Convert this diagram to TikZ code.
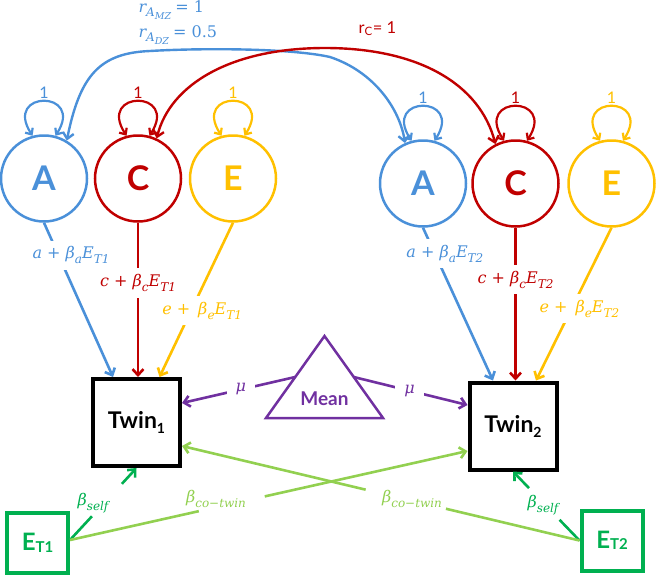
\documentclass[tikz,border=0pt]{standalone}
\usepackage{fontspec}
\setmainfont{Lato}
\newfontfamily\mfont{DejaVu Serif}
\newcommand\mlab[1]{{\mfont\itshape #1}}
\newcommand\sbs[1]{\raisebox{-0.3em}{\fontsize{12}{12}\selectfont #1}}
\newcommand\ssbs[1]{\raisebox{-0.25em}{\fontsize{9.5}{9.5}\selectfont #1}}
\newcommand\mminus{\char"2212}
\usetikzlibrary{arrows.meta,calc}
\definecolor{cblue}{RGB}{74,144,217}
\definecolor{cred}{RGB}{192,0,0}
\definecolor{cyel}{RGB}{255,192,0}
\definecolor{cpur}{RGB}{112,48,160}
\definecolor{cdgreen}{RGB}{0,176,80}
\definecolor{clgreen}{RGB}{146,208,80}
\tikzset{
  barb/.tip={Straight Barb[length=6pt,width=11pt]},
  sbarb/.tip={Straight Barb[length=5pt,width=9pt]},
}
\begin{document}
\begin{tikzpicture}[x=1pt,y=-1pt,
  lat/.style={circle, draw, line width=2.5pt, minimum size=86pt, inner sep=0pt, font=\fontsize{34}{34}\selectfont\bfseries},
  obs/.style={rectangle, draw=black, line width=4pt, minimum width=87pt, minimum height=87pt, inner sep=0pt, font=\fontsize{23}{23}\selectfont\bfseries},
  envbox/.style={rectangle, draw=cdgreen, text=cdgreen, line width=4pt, minimum width=61pt, minimum height=60pt, inner sep=0pt, font=\fontsize{24}{24}\selectfont\bfseries},
  conn/.style={line width=2.6pt, -barb},
  segline/.style={line width=2.6pt},
  dbl/.style={line width=2.4pt, barb-barb},
  loopl/.style={line width=2.2pt, sbarb-sbarb},
  onelbl/.style={font=\fontsize{16}{16}\selectfont, inner sep=0pt},
  pathlbl/.style={fill=white, inner xsep=1pt, inner ysep=6pt, font=\fontsize{16}{16}\selectfont},
  mulbl/.style={fill=white, inner xsep=9pt, inner ysep=3pt, font=\fontsize{16}{16}\selectfont},
  glbl/.style={inner sep=0pt, font=\fontsize{16}{16}\selectfont},
]
\useasboundingbox (0,0) rectangle (656,574);

% latent circles
\node[lat, cblue] (A1) at (44,178.5) {A};
\node[lat, cred] (C1) at (138,178.5) {C};
\node[lat, cyel] (E1) at (233,178.5) {E};
\node[lat, cblue] (A2) at (423,183.5) {A};
\node[lat, cred] (C2) at (515.5,183.5) {C};
\node[lat, cyel] (E2) at (611.5,183.5) {E};

% observed boxes
\node[obs] (T1) at (136.5,422.5) {Twin\raisebox{-5pt}{\fontsize{14}{14}\selectfont 1}};
\node[obs] (T2) at (513,426) {Twin\raisebox{-5pt}{\fontsize{14}{14}\selectfont 2}};

% environment boxes
\node[envbox] (ET1) at (37.5,543) {E\raisebox{-1.5pt}{\fontsize{15}{15}\selectfont T1}};
\node[envbox] (ET2) at (612,540.5) {E\raisebox{-1.5pt}{\fontsize{15}{15}\selectfont T2}};

% mean triangle
\coordinate (tA) at (324.5,336);
\coordinate (tL) at (266,418);
\coordinate (tR) at (383,418);
\draw[cpur, line width=2.5pt, line join=miter] (tA) -- (tR) -- (tL) -- cycle;
\node[cpur, font=\fontsize{19}{19}\selectfont\bfseries] (mean) at (324.5,399) {Mean};

% variance loops
\foreach \n/\c in {A1/cblue,C1/cred,E1/cyel,A2/cblue,C2/cred,E2/cyel}{
  \draw[loopl, \c] (\n.105) .. controls +(-30,-46) and +(30,-46) .. (\n.75)
    node[onelbl, pos=0.5, above=1.5pt] (one\n) {1};
}

% covariance arcs
\draw[dbl, cblue] (A1.59) .. controls (80,75) and (100,53) .. (150,51)
  .. controls (200,48) and (290,48) .. (330,57)
  .. controls (375,72) and (400,110) .. (A2.114);
\draw[dbl, cred] (C1.65) .. controls (170,85) and (230,48) .. (325,48)
  .. controls (420,48) and (480,85) .. (C2.117);

\node[cblue, font=\fontsize{16}{16}\selectfont, anchor=base west] (rAMZ) at (135,12)
  {\mlab{r\sbs{A\ssbs{MZ}}} {\mfont = 1}};
\node[cblue, font=\fontsize{16}{16}\selectfont, anchor=base west] (rADZ) at (135,37)
  {\mlab{r\sbs{A\ssbs{DZ}}} {\mfont = 0.5}};
\node[cred, font=\fontsize{16.5}{16.5}\selectfont, anchor=base west] (rC) at (355,33) {r\textsubscript{C}= 1};

% paths to twin 1
\draw[conn, cblue] (A1.south) -- ([xshift=-23.5pt]T1.north)
  node[pathlbl, pos=0.21, xshift=12.5pt] (la1) {\mlab{a + β\sbs{a}E\sbs{T1}}};
\draw[conn, cred] (C1.south) -- (C1.south |- T1.north)
  node[pathlbl, pos=0.39] (lc1) {\mlab{c + β\sbs{c}E\sbs{T1}}};
\draw[conn, cyel] (E1.south) -- ([xshift=23pt]T1.north)
  node[pathlbl, pos=0.57, xshift=11pt] (le1) {\mlab{e +\enspace β\sbs{e}E\sbs{T1}}};

% paths to twin 2
\draw[conn, cblue] (A2.south) -- ([xshift=-20pt]T2.north)
  node[pathlbl, pos=0.17, xshift=10pt] (la2) {\mlab{a + β\sbs{a}E\sbs{T2}}};
\draw[conn, cred] (C2.south) -- (C2.south |- T2.north)
  node[pathlbl, pos=0.34] (lc2) {\mlab{c + β\sbs{c}E\sbs{T2}}};
\draw[conn, cyel] (E2.south) -- ([xshift=23pt]T2.north)
  node[pathlbl, pos=0.53, xshift=8pt] (le2) {\mlab{e +\enspace β\sbs{e}E\sbs{T2}}};

% means
\draw[conn, cpur] ($(tA)!0.5!(tL)$) -- ([yshift=19.5pt]T1.east)
  node[mulbl, pos=0.48] (mu1) {\mlab{μ}};
\draw[conn, cpur] ($(tA)!0.5!(tR)$) -- ([yshift=21pt]T2.west)
  node[mulbl, pos=0.49] (mu2) {\mlab{μ}};

% environment effects
\coordinate (s1) at ([yshift=3pt]ET1.east);
\coordinate (s2) at (ET2.west);
\coordinate (t1s) at (T1.south);
\coordinate (t2s) at (T2.south);
\coordinate (t1c) at ([yshift=-23.5pt]T1.east);
\coordinate (t2c) at ([yshift=-25pt]T2.west);

\draw[segline, cdgreen] (s1) -- ($(s1)!0.33!(t1s)$);
\draw[conn, cdgreen] ($(s1)!0.78!(t1s)$) -- (t1s);
\node[glbl, cdgreen] (bs1) at (93,503) {\mlab{β\sbs{self}}};

\draw[segline, cdgreen] (s2) -- ($(s2)!0.30!(t2s)$);
\draw[conn, cdgreen] ($(s2)!0.76!(t2s)$) -- (t2s);
\node[glbl, cdgreen] (bs2) at (543,505) {\mlab{β\sbs{self}}};

\draw[segline, clgreen] (s1) -- ($(s1)!0.324!(t2c)$);
\draw[conn, clgreen] ($(s1)!0.49!(t2c)$) -- (t2c);
\node[glbl, clgreen] (bc1) at (216,499) {\mlab{β\sbs{co\mminus twin}}};

\draw[segline, clgreen] (s2) -- ($(s2)!0.336!(t1c)$);
\draw[conn, clgreen] ($(s2)!0.538!(t1c)$) -- (t1c);
\node[glbl, clgreen] (bc2) at (412,499) {\mlab{β\sbs{co\mminus twin}}};
\end{tikzpicture}
\end{document}
